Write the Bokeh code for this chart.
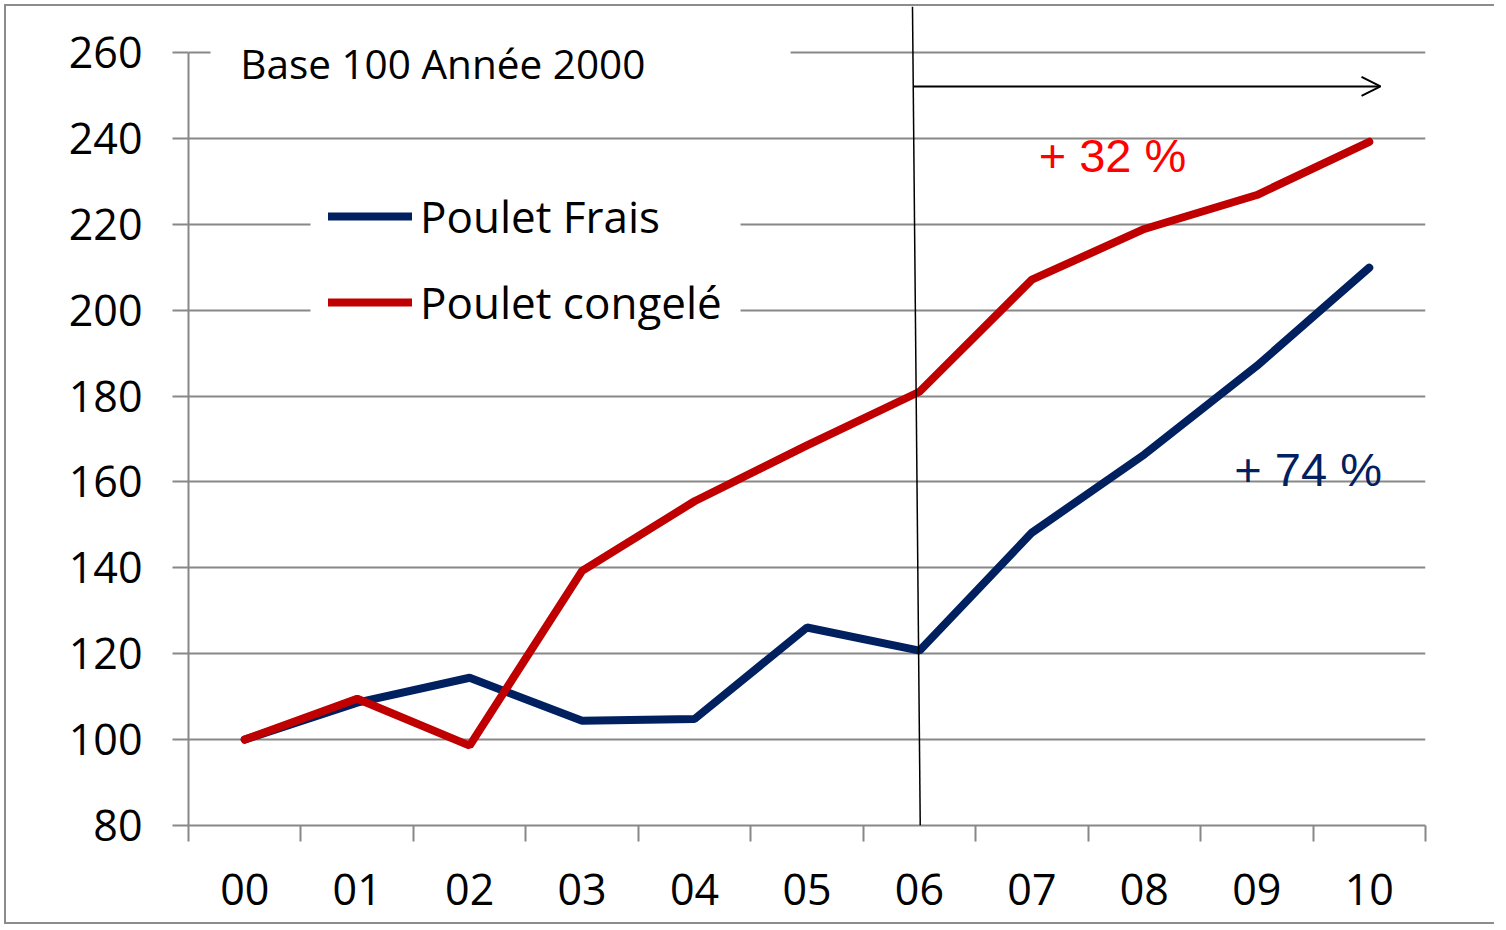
from bokeh.plotting import figure
from bokeh.models import (Range1d, FixedTicker, Legend, LegendItem, Label, Arrow,
                          OpenHead, BoxAnnotation)
from bokeh.embed import file_html
from bokeh.resources import INLINE

# ---- data ----
years = ["00", "01", "02", "03", "04", "05", "06", "07", "08", "09", "10"]
poulet_frais = [100, 108.6, 114.4, 104.4, 104.8, 126.1, 120.7, 148.2, 166.4, 187.0, 209.9]
poulet_congele = [100, 109.5, 98.6, 139.3, 155.5, 168.5, 181.0, 207.1, 218.9, 226.8, 239.2]
y_ticks = [80, 100, 120, 140, 160, 180, 200, 220, 240, 260]
series_names = ["Poulet Frais", "Poulet congelé"]
note_text = "Base 100 Année 2000"
pct_congele = "+ 32 %"
pct_frais = "+ 74 %"

BLUE = "#002060"
RED = "#C00000"
GRID = "#888888"

xs = list(range(len(years)))

p = figure(width=1490, height=920, output_backend="svg", toolbar_location=None,
           x_range=Range1d(-0.5, len(years) - 0.5), y_range=Range1d(80, 270.7),
           min_border_left=182, min_border_right=71, min_border_top=0, min_border_bottom=101)
p.styles = {"border-left": "2px solid #8c8c8c", "border-top": "2px solid #8c8c8c",
            "border-bottom": "2px solid #8c8c8c",
            "margin-left": "4px", "margin-top": "4px"}
p.outline_line_color = None
p.background_fill_color = "white"
p.border_fill_color = "white"

# axes
p.xaxis.ticker = FixedTicker(ticks=xs, minor_ticks=[i - 0.5 for i in range(len(years) + 1)])
p.xaxis.major_label_overrides = {i: y for i, y in zip(xs, years)}
p.xaxis.major_tick_out = 0
p.xaxis.major_tick_in = 0
p.xaxis.minor_tick_out = 16
p.xaxis.minor_tick_in = 0
p.xaxis.minor_tick_line_color = GRID
p.xaxis.minor_tick_line_width = 2
p.xaxis.major_label_standoff = 32

p.yaxis.ticker = FixedTicker(ticks=y_ticks)
p.yaxis.bounds = (80, 260)
p.yaxis.major_tick_out = 16
p.yaxis.major_tick_in = 0
p.yaxis.minor_tick_line_color = None
p.yaxis.major_tick_line_color = GRID
p.yaxis.major_tick_line_width = 2
p.yaxis.major_label_standoff = 30

for ax in (p.xaxis, p.yaxis):
    ax.axis_line_color = GRID
    ax.axis_line_width = 2
    ax.major_label_text_font = "Open Sans"
    ax.major_label_text_font_size = "43px"
    ax.major_label_text_color = "black"

p.xgrid.visible = False
p.ygrid.ticker = FixedTicker(ticks=y_ticks)
p.ygrid.grid_line_color = GRID
p.ygrid.grid_line_width = 2

# white backgrounds of the text boxes (hide grid lines behind them)
p.add_layout(BoxAnnotation(left=0.585, right=4.409, bottom=191.8, top=230.6,
                           fill_color="white", fill_alpha=1, line_color=None,
                           level="underlay"))

# lines
r_frais = p.line(xs, poulet_frais, line_color=BLUE, line_width=8, line_cap="round")
r_cong = p.line(xs, poulet_congele, line_color=RED, line_width=8, line_cap="round")

p.add_layout(BoxAnnotation(left=-0.304, right=4.854, bottom=255, top=266,
                           fill_color="white", fill_alpha=1, line_color=None,
                           level="overlay"))
p.add_layout(Label(x=-0.04, y=257.5, text=note_text, text_font="Open Sans",
                   text_font_size="40.5px", text_color="black",
                   text_baseline="middle", level="overlay"))

# legend
legend = Legend(items=[LegendItem(label=series_names[0], renderers=[r_frais]),
                       LegendItem(label=series_names[1], renderers=[r_cong])],
                location=(140, 493), orientation="vertical")
legend.label_text_font = "Open Sans"
legend.label_text_font_size = "44px"
legend.label_text_color = "black"
legend.glyph_width = 84
legend.glyph_height = 50
legend.label_height = 50
legend.label_standoff = 8
legend.spacing = 26
legend.padding = 18
legend.margin = 0
legend.border_line_color = None
legend.background_fill_color = "white"
legend.background_fill_alpha = 1
p.add_layout(legend)

# vertical separator at 06 and arrow
p.add_layout(Arrow(x_start=6.007, y_start=80, x_end=5.938, y_end=270.7,
                   line_color="black", line_width=1.5, end=None))
p.add_layout(Arrow(x_start=5.947, y_start=252.1, x_end=10.1, y_end=252.1,
                   line_color="black", line_width=2,
                   end=OpenHead(size=19, line_color="black", line_width=2)))

# percentage labels
p.add_layout(Label(x=7.06, y=235.9, text=pct_congele, text_font="Liberation Sans",
                   text_font_size="47px", text_color="#FF0000", text_baseline="middle"))
p.add_layout(Label(x=8.80, y=163.0, text=pct_frais, text_font="Liberation Sans",
                   text_font_size="47px", text_color=BLUE, text_baseline="middle"))

open("out.html", "w").write(file_html(p, INLINE))
